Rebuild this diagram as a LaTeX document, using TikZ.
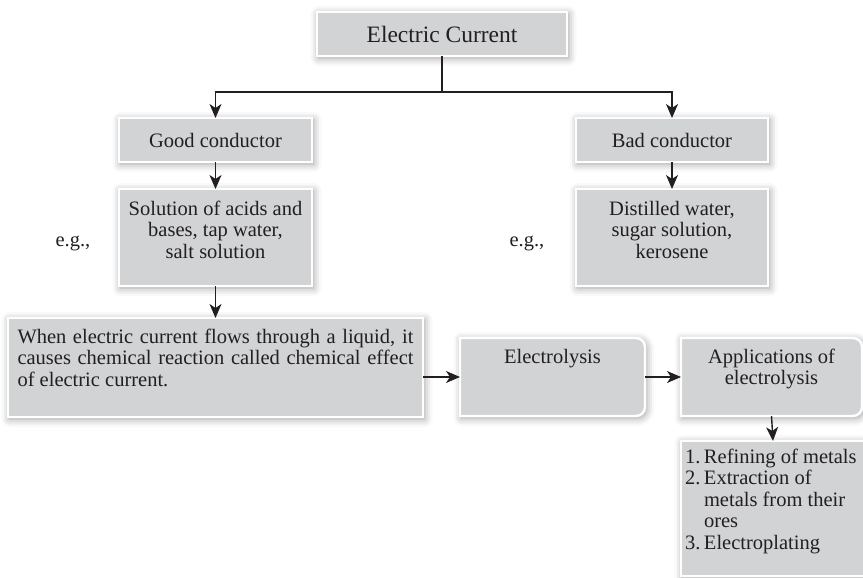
\documentclass[tikz,border=0pt]{standalone}
\usepackage{fontspec}
\setmainfont{Liberation Serif}
\usetikzlibrary{arrows.meta,shadows.blur}

\definecolor{boxgray}{RGB}{209,211,212}
\definecolor{ink}{RGB}{35,31,32}

% text block of fixed size, content set from the top
\newcommand{\topblock}[3]{\parbox[c][#2][t]{#1}{\strut #3}}

\tikzset{
  panel/.style={fill=boxgray, draw=white, line width=2.4pt,
    blur shadow={shadow xshift=1.5pt, shadow yshift=-2pt,
                 shadow blur radius=8pt, shadow opacity=40}},
  boxfont/.style={text=ink, font=\fontsize{20.5}{21.5}\selectfont},
  box/.style={panel, boxfont, rectangle, anchor=north west, inner sep=0pt, outer sep=0pt},
  plainbox/.style={boxfont, rectangle, anchor=north west, inner sep=0pt, outer sep=0pt},
  note/.style={boxfont, inner sep=0pt},
  link/.style={draw=ink, line width=1.4pt},
  flow/.style={link, -{Stealth[length=14pt,width=12pt,inset=4pt]}},
}

\begin{document}
\begin{tikzpicture}[x=1pt,y=-1pt]
\useasboundingbox (0,0) rectangle (863,578);

% top of the tree
\node[box, minimum width=250pt, minimum height=44pt,
      font=\fontsize{23.5}{26}\selectfont] (ec) at (317,12) {Electric Current};

\node[box, minimum width=193pt, minimum height=44pt] (good) at (119,118) {Good conductor};
\node[box, minimum width=192pt, minimum height=44pt] (bad)  at (576,118) {Bad conductor};

\node[box, inner xsep=5pt, inner ysep=11pt] (sol) at (119,189)
  {\topblock{183pt}{75pt}{\centering Solution of acids and\\ bases, tap water,\\ salt solution}};
\node[box, inner xsep=5pt, inner ysep=11pt] (dist) at (576,189)
  {\topblock{182pt}{75pt}{\centering Distilled water,\\ sugar solution,\\ kerosene}};

\node[note] (eg1) at (73,243) {e.g.,};
\node[note] (eg2) at (527,243) {e.g.,};

% chemical effect
\node[box, inner xsep=9.5pt, inner ysep=10pt] (effect) at (8,318)
  {\topblock{396pt}{79pt}{\hyphenpenalty=10000 When electric current flows through a liquid, it\linebreak
   causes chemical reaction called chemical effect\linebreak of electric current.}};

% panels with a rounded right side, under the two nodes placed on them
\coordinate (lysisNW) at (460,338);
\coordinate (appsNW) at (681,338);
\foreach \pnw/\pwidth in {lysisNW/185, appsNW/181}{
  \path[panel] (\pnw) ++(0,78) -- (\pnw)
    -- ++(\pwidth-9,0) arc[start angle=90, end angle=0, radius=9pt]
    -- ++(0,60) arc[start angle=0, end angle=-90, radius=9pt]
    -- cycle;
}

\node[plainbox, inner xsep=5pt, inner ysep=10pt] (lysis) at (lysisNW)
  {\topblock{175pt}{58pt}{\centering Electrolysis}};
\node[plainbox, inner xsep=5pt, inner ysep=10pt] (apps) at (appsNW)
  {\topblock{171pt}{58pt}{\centering Applications of\\ electrolysis}};

\node[box, inner xsep=4pt, inner ysep=7pt] (uses) at (681,441)
  {\topblock{176pt}{121pt}{\raggedright
   \makebox[19pt][l]{1.}Refining of metals\\
   \makebox[19pt][l]{2.}Extraction of\\
   \hspace*{19pt}metals from their\\
   \hspace*{19pt}ores\\
   \makebox[19pt][l]{3.}Electroplating}};

% connectors
\coordinate (split) at ([yshift=-36pt]ec.south);
\draw[link] (ec.south) -- (split);
\draw[flow] (split) -| (good.north);
\draw[flow] (split) -| (bad.north);
\draw[flow] (good.south) -- (sol.north);
\draw[flow] (bad.south) -- (dist.north);
\draw[flow] (sol.south) -- (effect.north);
\draw[flow] (effect.east |- 0,377) -- (lysis.west |- 0,377);
\draw[flow] (lysis.east |- 0,377) -- (apps.west |- 0,377);
\draw[flow] (apps.south) -- (uses.north);
\end{tikzpicture}
\end{document}
